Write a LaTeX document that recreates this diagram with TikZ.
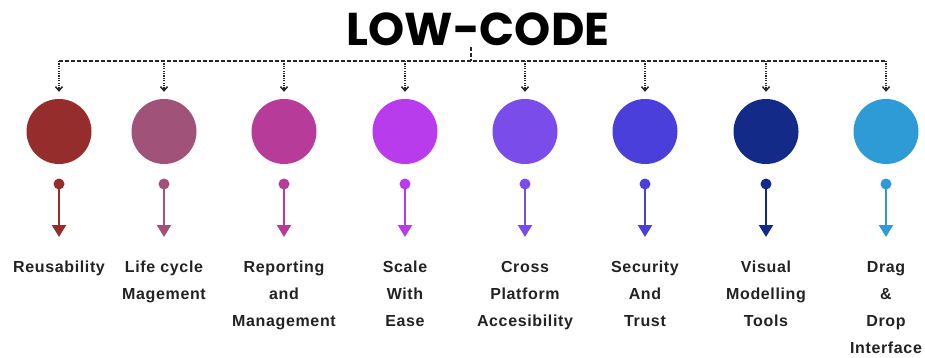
\documentclass[tikz,border=0pt]{standalone}
\usepackage{fontspec}
\setmainfont{Liberation Sans}
\newfontfamily\headfont{Poppins}
\newfontfamily\itemfont{Liberation Sans}[LetterSpace=4]
\usetikzlibrary{arrows.meta}

% colours of the eight columns
\definecolor{colreuse}{HTML}{952D2D}
\definecolor{collife}{HTML}{A05279}
\definecolor{colreport}{HTML}{B73C99}
\definecolor{colscale}{HTML}{B83CEC}
\definecolor{colcross}{HTML}{7A4DEB}
\definecolor{colsecure}{HTML}{4A3FDB}
\definecolor{colvisual}{HTML}{142A88}
\definecolor{coldrag}{HTML}{2E9AD6}
\definecolor{labelgray}{HTML}{222222}

\begin{document}
\begin{tikzpicture}[
		x=1pt, y=-1pt,
		bubble/.style={
		% The shape:
		circle,
		% The size:
		minimum size=65pt,
		inner sep=0pt,
		% The border:
		draw=none
		},
		knob/.style={
		circle,
		minimum size=11pt,
		inner sep=0pt,
		fill=#1
		},
		stem/.style={
		draw=#1,
		line width=2.2pt,
		-{Triangle[width=14pt,length=12pt]}
		},
		busline/.style={
		line width=1.5pt,
		dash pattern=on 4pt off 2pt,
		black!85
		},
		dropline/.style={
		line width=1.5pt,
		dash pattern=on 1.2pt off 1.2pt,
		black!85,
		shorten >=7pt,
		-{Straight Barb[width=7pt,length=4pt,line width=1.5pt]}
		},
		itemtext/.style={
		anchor=north,
		align=center,
		inner sep=0pt,
		text=labelgray,
		font=\itemfont\fontsize{16}{27}\selectfont\bfseries
		}
	]
	\useasboundingbox (0,0) rectangle (925,358);

	\node (TITLE) at (478,29) {\headfont\bfseries\fontsize{46}{46}\selectfont LOW-CODE};

	% the dashed bus under the title
	\coordinate (S) at (471,47);
	\coordinate (HS) at (471,61);
	\coordinate (H1) at (59,61);
	\coordinate (H2) at (164,61);
	\coordinate (H3) at (284,61);
	\coordinate (H4) at (405,61);
	\coordinate (H5) at (525,61);
	\coordinate (H6) at (645,61);
	\coordinate (H7) at (766,61);
	\coordinate (H8) at (886,61);

	% circles
	\node (C1)[bubble, fill=colreuse] at (59,131.5) {};
	\node (C2)[bubble, fill=collife] at (164,131.5) {};
	\node (C3)[bubble, fill=colreport] at (284,131.5) {};
	\node (C4)[bubble, fill=colscale] at (405,131.5) {};
	\node (C5)[bubble, fill=colcross] at (525,131.5) {};
	\node (C6)[bubble, fill=colsecure] at (645,131.5) {};
	\node (C7)[bubble, fill=colvisual] at (766,131.5) {};
	\node (C8)[bubble, fill=coldrag] at (886,131.5) {};

	% small dots under the circles
	\node (D1)[knob=colreuse] at (59,184) {};
	\node (D2)[knob=collife] at (164,184) {};
	\node (D3)[knob=colreport] at (284,184) {};
	\node (D4)[knob=colscale] at (405,184) {};
	\node (D5)[knob=colcross] at (525,184) {};
	\node (D6)[knob=colsecure] at (645,184) {};
	\node (D7)[knob=colvisual] at (766,184) {};
	\node (D8)[knob=coldrag] at (886,184) {};

	\coordinate (T1) at (59,237);
	\coordinate (T2) at (164,237);
	\coordinate (T3) at (284,237);
	\coordinate (T4) at (405,237);
	\coordinate (T5) at (525,237);
	\coordinate (T6) at (645,237);
	\coordinate (T7) at (766,237);
	\coordinate (T8) at (886,237);

	% labels
	\node (L1)[itemtext] at (59,261) {Reusability};
	\node (L2)[itemtext] at (164,261) {Life cycle\\Magement};
	\node (L3)[itemtext] at (284,261) {Reporting\\and\\Management};
	\node (L4)[itemtext] at (405,261) {Scale\\With\\Ease};
	\node (L5)[itemtext] at (525,261) {Cross\\Platform\\Accesibility};
	\node (L6)[itemtext] at (645,261) {Security\\And\\Trust};
	\node (L7)[itemtext] at (766,261) {Visual\\Modelling\\Tools};
	\node (L8)[itemtext] at (886,261) {Drag\\\&\\Drop\\Interface};

	\draw [busline] (H1) -- (H8);
	\draw [busline] (S) -- (HS);

	\draw [dropline] (H1) -- (C1);
	\draw [dropline] (H2) -- (C2);
	\draw [dropline] (H3) -- (C3);
	\draw [dropline] (H4) -- (C4);
	\draw [dropline] (H5) -- (C5);
	\draw [dropline] (H6) -- (C6);
	\draw [dropline] (H7) -- (C7);
	\draw [dropline] (H8) -- (C8);

	\draw [stem=colreuse] (D1.center) -- (T1);
	\draw [stem=collife] (D2.center) -- (T2);
	\draw [stem=colreport] (D3.center) -- (T3);
	\draw [stem=colscale] (D4.center) -- (T4);
	\draw [stem=colcross] (D5.center) -- (T5);
	\draw [stem=colsecure] (D6.center) -- (T6);
	\draw [stem=colvisual] (D7.center) -- (T7);
	\draw [stem=coldrag] (D8.center) -- (T8);
\end{tikzpicture}
\end{document}
